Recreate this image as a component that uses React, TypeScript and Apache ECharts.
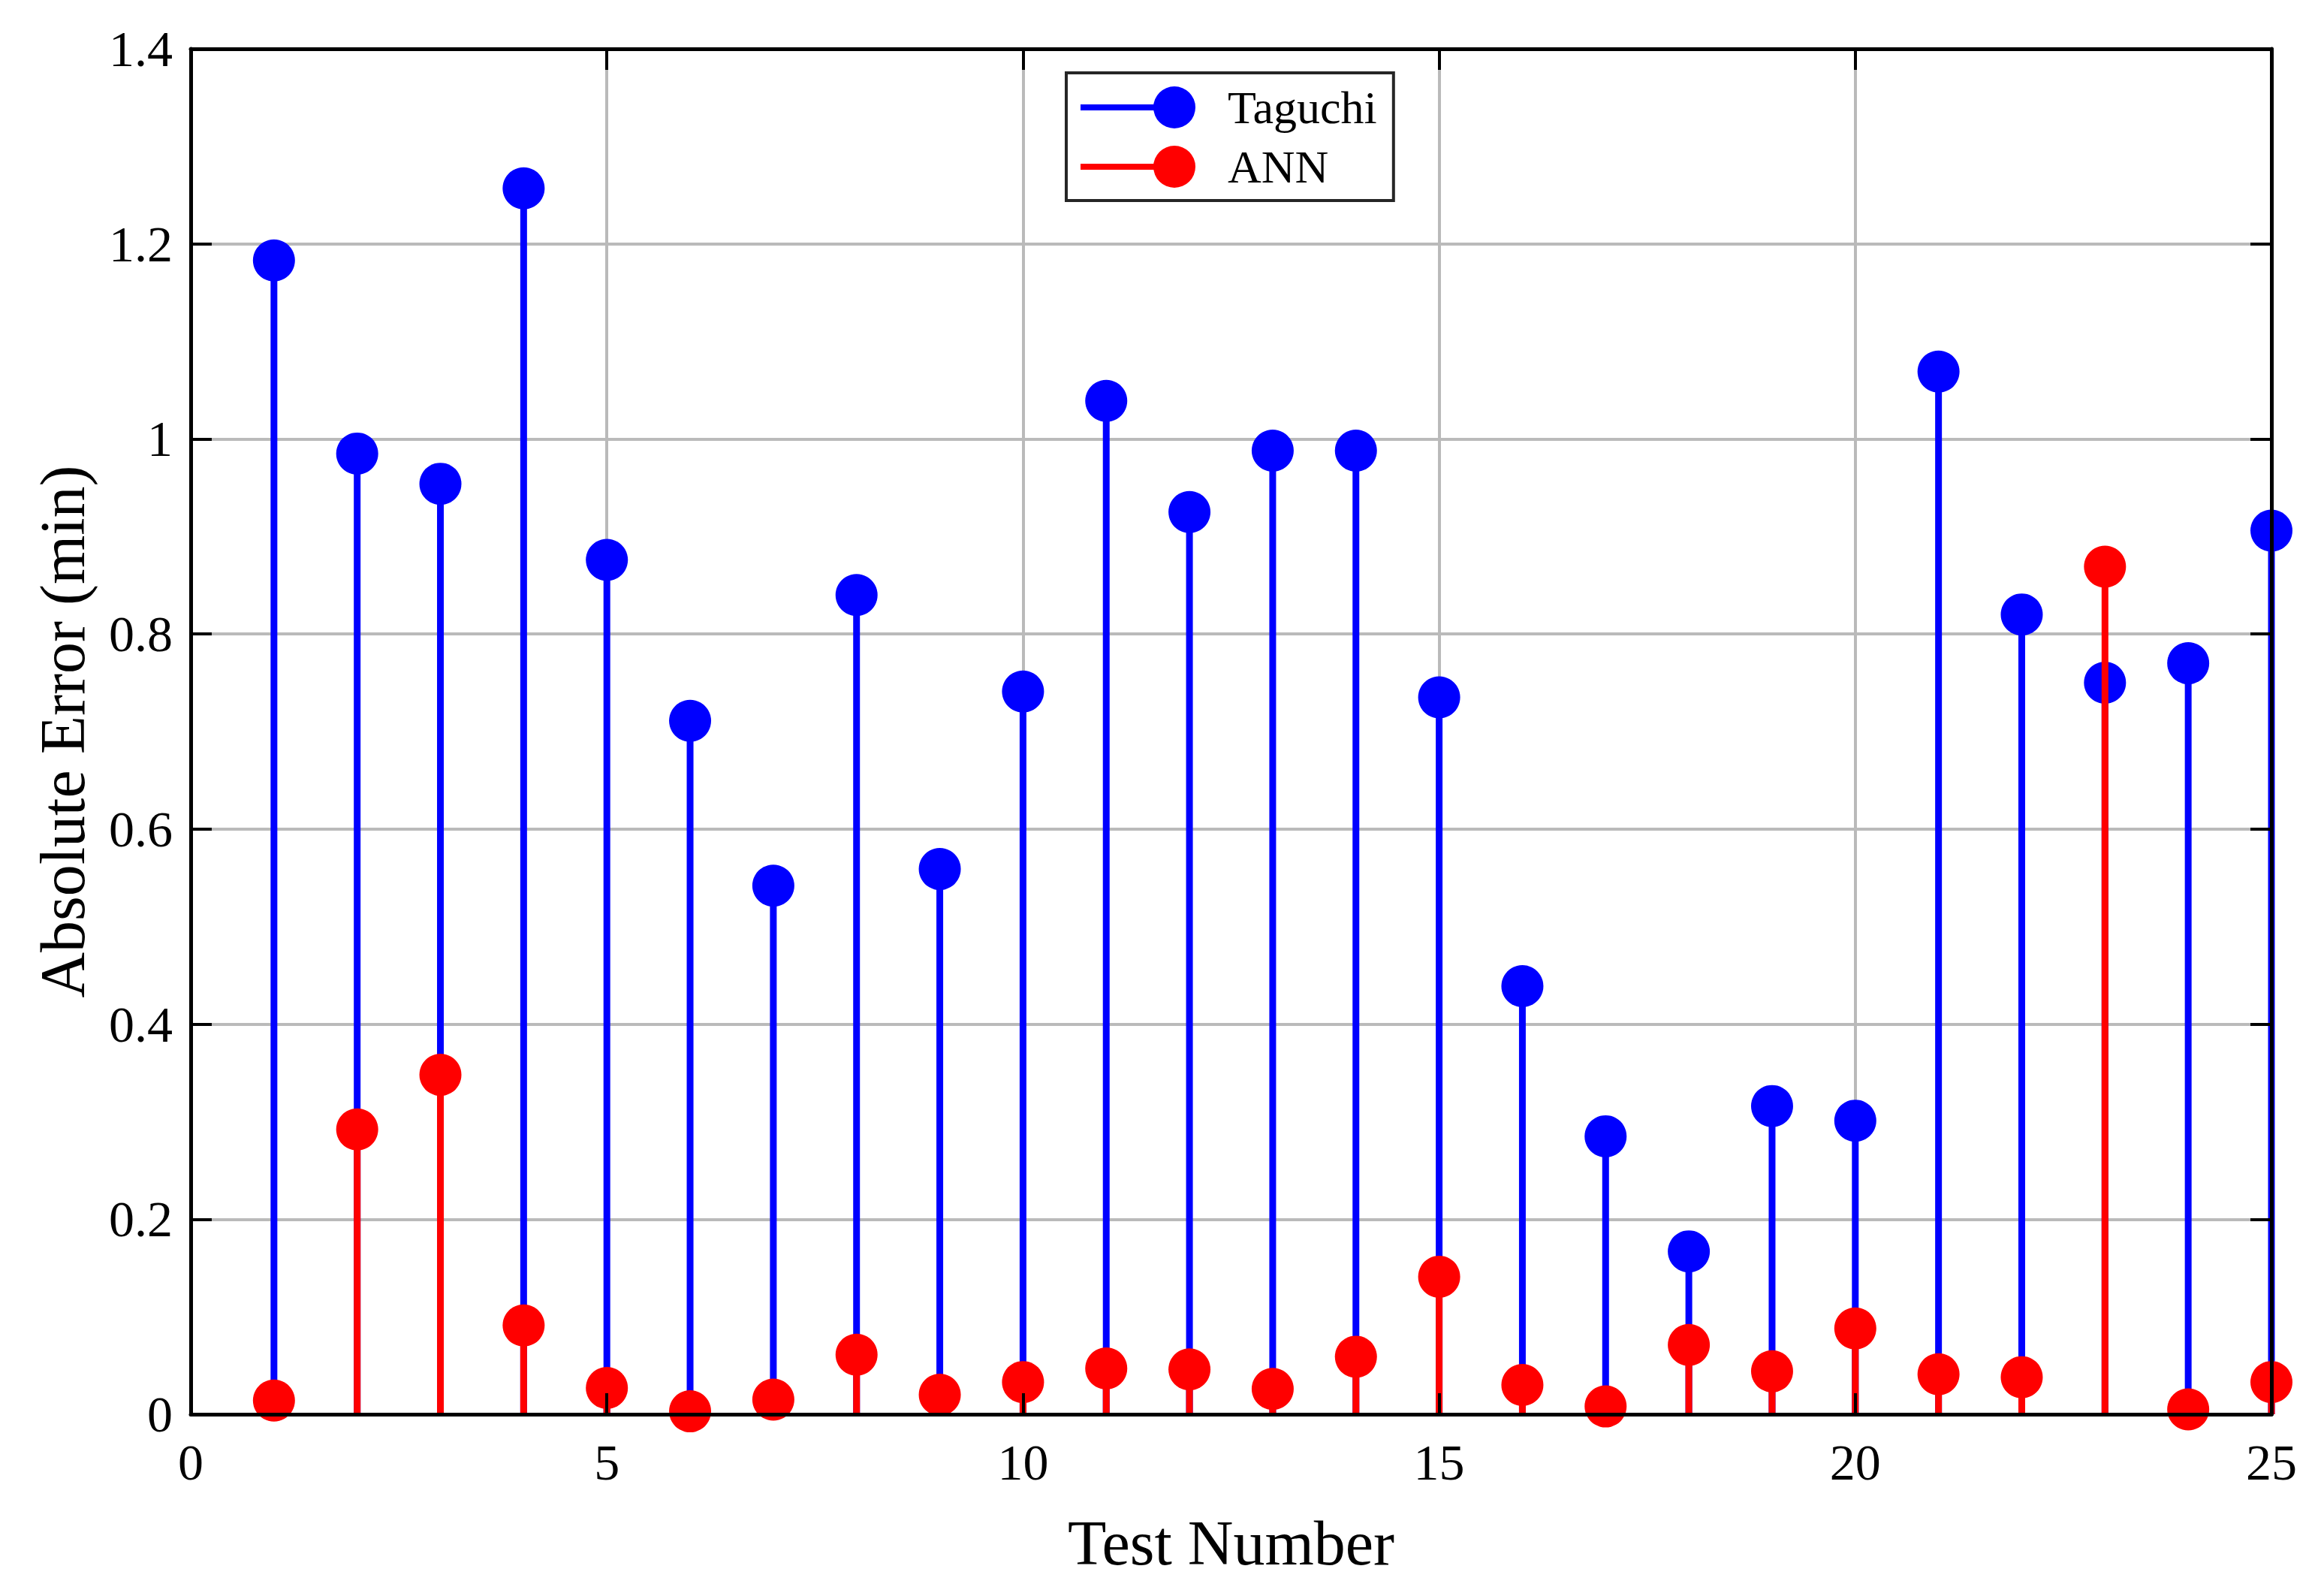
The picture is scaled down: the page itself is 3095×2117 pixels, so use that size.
import React, { useEffect, useRef } from "react";
import * as echarts from "echarts";

const testNumbers = [1, 2, 3, 4, 5, 6, 7, 8, 9, 10, 11, 12, 13, 14, 15, 16, 17, 18, 19, 20, 21, 22, 23, 24, 25];
const taguchi = [1.183, 0.985, 0.954, 1.257, 0.876, 0.711, 0.542, 0.84, 0.559, 0.741, 1.039, 0.925, 0.988, 0.988, 0.735, 0.439, 0.285, 0.167, 0.316, 0.301, 1.069, 0.82, 0.75, 0.77, 0.906];
const ann = [0.014, 0.292, 0.348, 0.091, 0.027, 0.003, 0.015, 0.061, 0.02, 0.033, 0.047, 0.046, 0.026, 0.059, 0.141, 0.03, 0.008, 0.071, 0.044, 0.088, 0.041, 0.038, 0.869, 0.005, 0.033];
const seriesNames = ["Taguchi", "ANN"];
const seriesColors = ["#0000ff", "#ff0000"];

const FONT = "'Liberation Serif', 'Times New Roman', serif";
const LEGEND_ICON =
  "path://M0,24 L125,24 L125,32 L0,32 Z M125,0 A28,28 0 1,1 125,56 A28,28 0 1,1 125,0 Z";

function stemSeries(name: string, values: number[], color: string) {
  return {
    name,
    type: "custom",
    xAxisIndex: 0,
    yAxisIndex: 0,
    clip: false,
    z: 2,
    encode: { x: 0, y: 1 },
    itemStyle: { color },
    data: testNumbers.map((t, i) => [t, values[i]]),
    renderItem: (params: any, api: any) => {
      const x = api.value(0);
      const y = api.value(1);
      const top = api.coord([x, y]);
      const base = api.coord([x, 0]);
      return {
        type: "group",
        children: [
          {
            type: "line",
            shape: { x1: base[0], y1: base[1], x2: top[0], y2: top[1] },
            style: { stroke: color, lineWidth: 9 },
          },
          {
            type: "circle",
            shape: { cx: top[0], cy: top[1], r: 28 },
            style: { fill: color },
          },
        ],
      };
    },
  };
}

export default function App() {
  const ref = useRef<HTMLDivElement>(null);
  useEffect(() => {
    document.body.style.margin = "0";
    if (!ref.current) return;
    const chart = echarts.init(ref.current, null, { renderer: "svg" });
    const axisLineStyle = { color: "#000", width: 5 };
    const tickStyle = { color: "#000", width: 4 };
    const gridColor = "#bababa";
    const frameLine = { show: true, onZero: false, lineStyle: axisLineStyle };
    const innerTick = { show: true, inside: true, length: 28, lineStyle: tickStyle };
    chart.setOption({
      animation: false,
      backgroundColor: "#ffffff",
      grid: { left: 254, right: 70, top: 65, bottom: 234, containLabel: false },
      legend: {
        orient: "vertical",
        left: 1420,
        top: 97,
        padding: [15, 22, 14, 19],
        itemGap: 17,
        itemWidth: 153,
        itemHeight: 56,
        borderColor: "#262626",
        borderWidth: 4,
        backgroundColor: "#ffffff",
        textStyle: { fontFamily: FONT, fontSize: 62, color: "#000", padding: [0, 0, 0, 38] },
        data: seriesNames.map((n, i) => ({ name: n, icon: LEGEND_ICON, itemStyle: { color: seriesColors[i] } })),
      },
      xAxis: [
        {
          type: "value",
          min: 0,
          max: 25,
          interval: 5,
          position: "bottom",
          z: 10,
          name: "Test Number",
          nameLocation: "middle",
          nameGap: 129,
          nameTextStyle: { fontFamily: FONT, fontSize: 84, color: "#000" },
          axisLine: frameLine,
          axisTick: innerTick,
          axisLabel: { show: true, margin: 30, fontFamily: FONT, fontSize: 68, color: "#000" },
          splitLine: { show: false },
        },
        {
          type: "value",
          min: 0,
          max: 25,
          interval: 5,
          position: "top",
          z: 10,
          axisLine: frameLine,
          axisTick: innerTick,
          axisLabel: { show: false },
          splitLine: { show: false },
        },
        {
          type: "value",
          min: 0,
          max: 25,
          interval: 5,
          position: "bottom",
          z: 0,
          axisLine: { show: false, onZero: false },
          axisTick: { show: false },
          axisLabel: { show: false },
          splitLine: { show: true, lineStyle: { color: gridColor, width: 4 } },
        },
      ],
      yAxis: [
        {
          type: "value",
          min: 0,
          max: 1.4,
          interval: 0.2,
          position: "left",
          z: 10,
          name: "Absolute Error (min)",
          nameLocation: "middle",
          nameGap: 129,
          nameTextStyle: { fontFamily: FONT, fontSize: 84, color: "#000" },
          axisLine: frameLine,
          axisTick: innerTick,
          axisLabel: { show: true, margin: 24, fontFamily: FONT, fontSize: 68, color: "#000" },
          splitLine: { show: false },
        },
        {
          type: "value",
          min: 0,
          max: 1.4,
          interval: 0.2,
          position: "right",
          z: 10,
          axisLine: frameLine,
          axisTick: innerTick,
          axisLabel: { show: false },
          splitLine: { show: false },
        },
        {
          type: "value",
          min: 0,
          max: 1.4,
          interval: 0.2,
          position: "left",
          z: 0,
          axisLine: { show: false, onZero: false },
          axisTick: { show: false },
          axisLabel: { show: false },
          splitLine: { show: true, lineStyle: { color: gridColor, width: 4 } },
        },
      ],
      series: [
        stemSeries(seriesNames[0], taguchi, seriesColors[0]),
        stemSeries(seriesNames[1], ann, seriesColors[1]),
      ],
    });
    return () => chart.dispose();
  }, []);
  return <div ref={ref} style={{ width: 3095, height: 2117 }} />;
}
